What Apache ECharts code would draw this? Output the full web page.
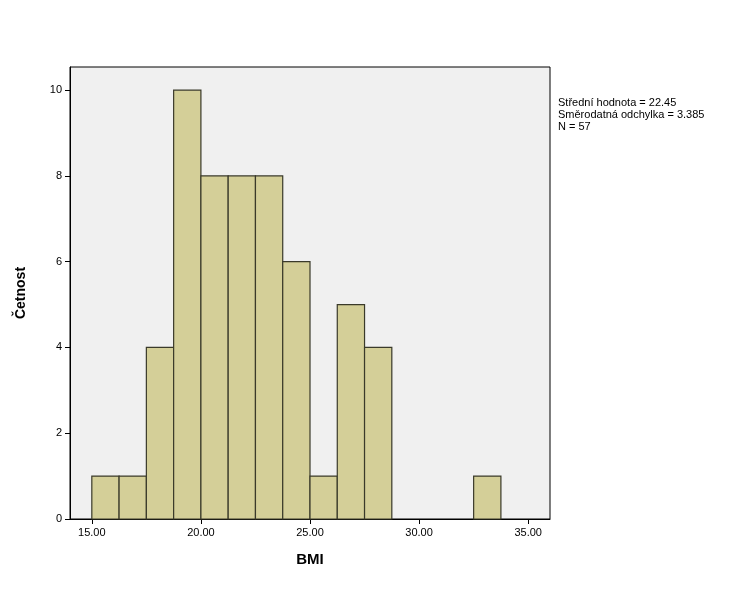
<!DOCTYPE html>
<html><head><meta charset="utf-8">
<script src="https://cdn.jsdelivr.net/npm/echarts@6/dist/echarts.min.js"></script>
<style>html,body{margin:0;padding:0;background:#fff}#c{width:736px;height:589px}</style>
</head><body><div id="c"></div>
<script>
const binStarts = [15, 16.25, 17.5, 18.75, 20, 21.25, 22.5, 23.75, 25, 26.25, 27.5, 32.5];
const counts    = [1, 1, 4, 10, 8, 8, 8, 6, 1, 5, 4, 1];
const binWidth = 1.25;
const xTicks = [15, 20, 25, 30, 35];
const yTicks = [0, 2, 4, 6, 8, 10];
const statsLines = ['Střední hodnota = 22.45', 'Směrodatná odchylka = 3.385', 'N = 57'];

const data = binStarts.map((s, i) => [s, s + binWidth, counts[i]]);
const chart = echarts.init(document.getElementById('c'));
chart.setOption({
  animation: false,
  textStyle: {fontFamily: 'Liberation Sans, Arial'},
  grid: {left: 70, top: 67, right: 186, bottom: 70, show: true, backgroundColor: '#f0f0f0', borderColor: '#000', borderWidth: 1},
  xAxis: {
    type: 'value', min: 14, max: 36, interval: 1,
    axisLine: {onZero: false, lineStyle: {color: '#000'}},
    axisTick: {show: true, inside: false, length: 5, customValues: xTicks, lineStyle: {color: '#000'}},
    axisLabel: {customValues: xTicks, formatter: v => v.toFixed(2), color: '#000', fontSize: 11, margin: 8},
    splitLine: {show: false},
    name: 'BMI', nameLocation: 'middle', nameGap: 33,
    nameTextStyle: {fontWeight: 'bold', fontSize: 15, color: '#000'}
  },
  yAxis: {
    type: 'value', min: 0, max: 10.54,
    axisLine: {show: true, lineStyle: {color: '#000'}},
    axisTick: {show: true, length: 5, customValues: yTicks, lineStyle: {color: '#000'}},
    axisLabel: {customValues: yTicks, color: '#000', fontSize: 11},
    splitLine: {show: false},
    name: 'Četnost', nameLocation: 'middle', nameGap: 42, nameRotate: 90,
    nameTextStyle: {fontWeight: 'bold', fontSize: 14, color: '#000'}
  },
  series: [{
    type: 'custom',
    data: data,
    renderItem: (params, api) => {
      const p0 = api.coord([api.value(0), api.value(2)]);
      const p1 = api.coord([api.value(1), 0]);
      return {type: 'rect', shape: {x: p0[0], y: p0[1], width: p1[0] - p0[0], height: p1[1] - p0[1]},
        style: {fill: '#d4cf98', stroke: '#3a3a2a', lineWidth: 1.2}};
    }
  }],
  graphic: [{
    type: 'text', left: 558, top: 97,
    style: {text: statsLines.join('\n'), fontSize: 11, lineHeight: 12, fill: '#000', fontFamily: 'Liberation Sans, Arial'}
  }]
});
</script></body></html>
